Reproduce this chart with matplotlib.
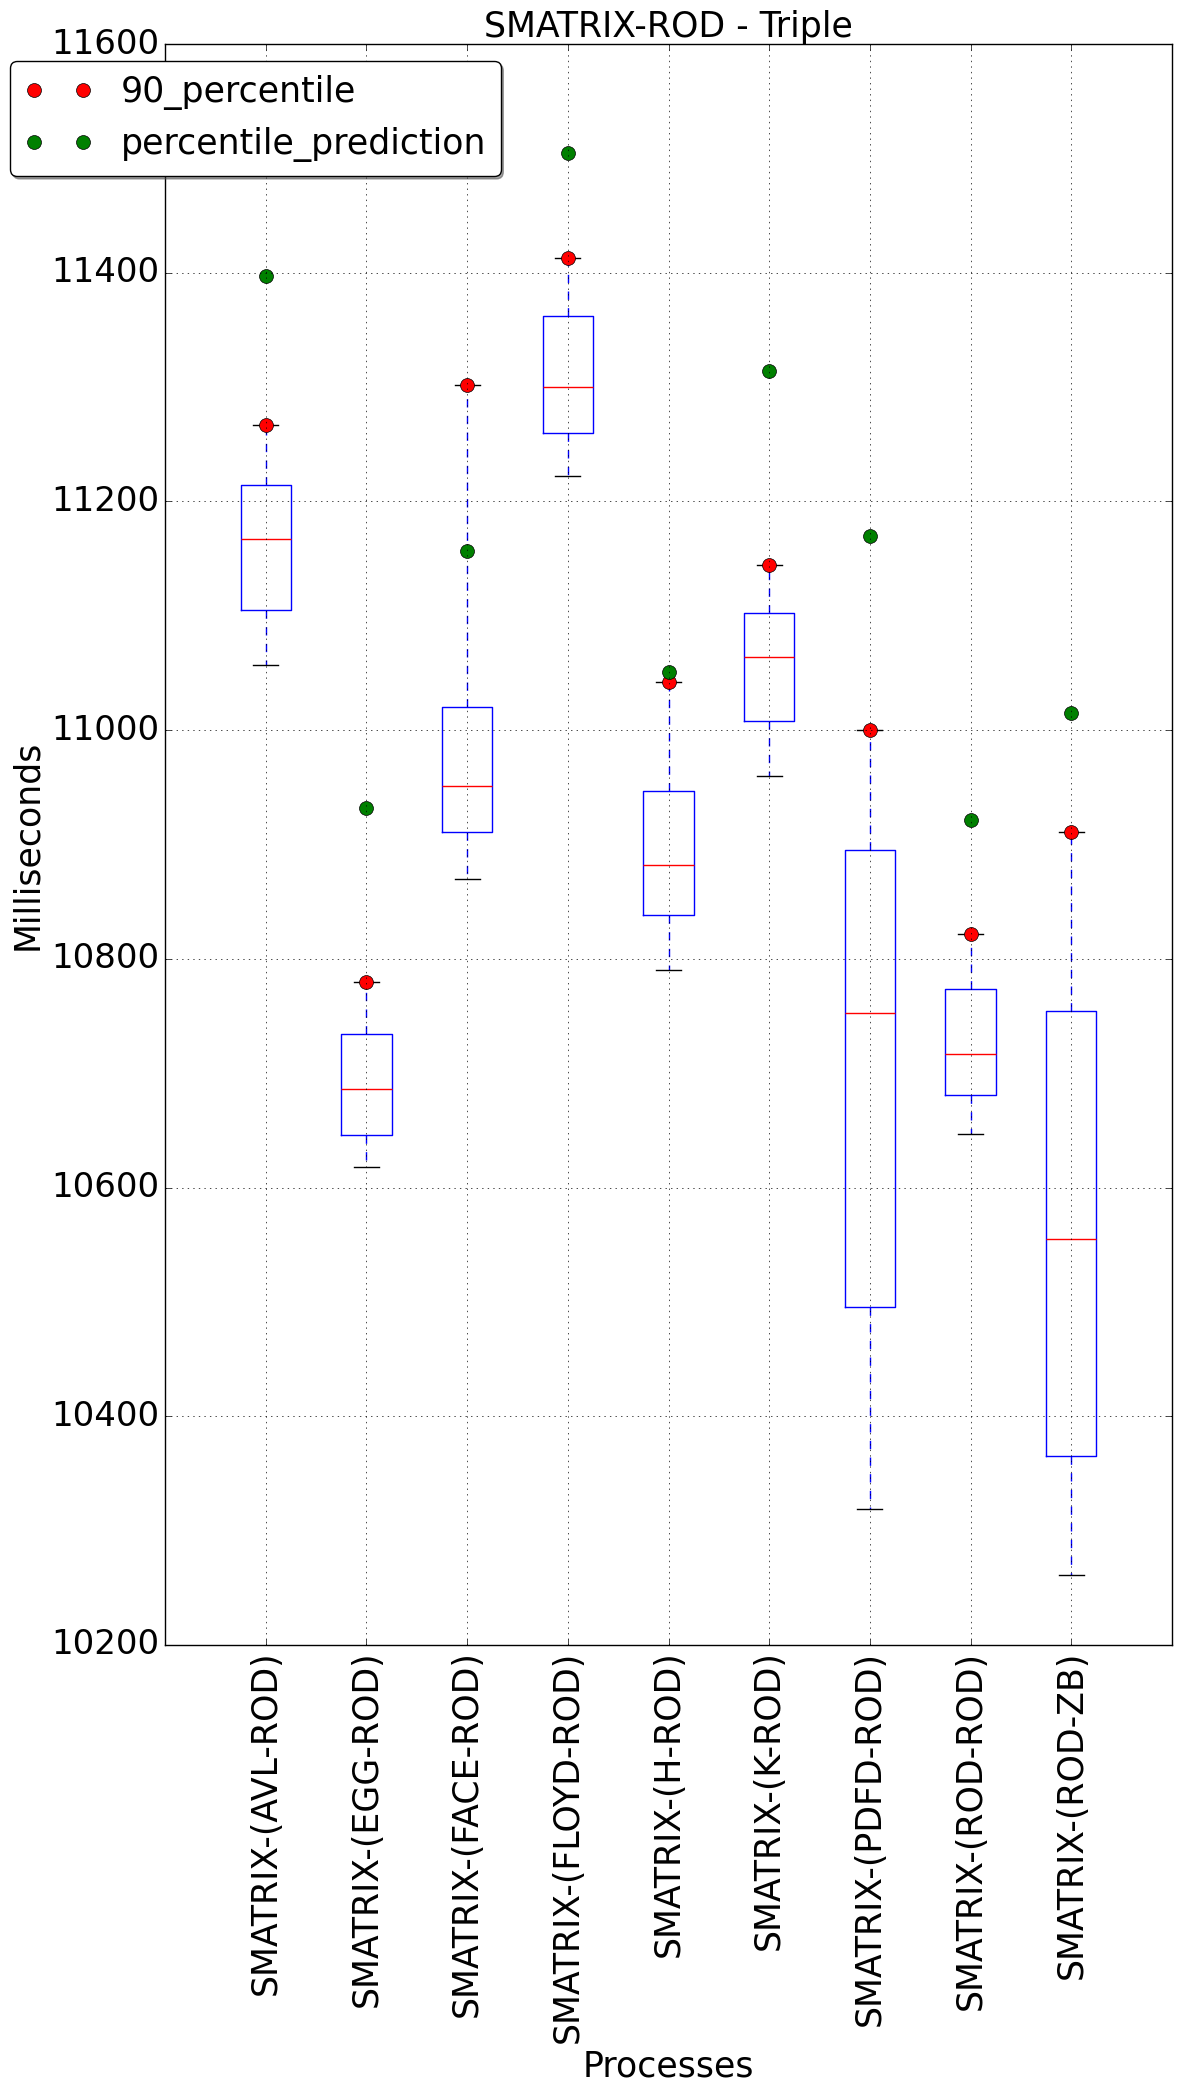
import matplotlib
matplotlib.use("Agg")
import matplotlib.pyplot as plt

plt.style.use("classic")
plt.rcParams["font.family"] = ["DejaVu Sans"]
plt.rcParams["font.size"] = 25

labels = ["SMATRIX-(AVL-ROD)", "SMATRIX-(EGG-ROD)", "SMATRIX-(FACE-ROD)",
          "SMATRIX-(FLOYD-ROD)", "SMATRIX-(H-ROD)", "SMATRIX-(K-ROD)",
          "SMATRIX-(PDFD-ROD)", "SMATRIX-(ROD-ROD)", "SMATRIX-(ROD-ZB)"]
whisker_low = [11057, 10618, 10870, 11222, 10790, 10960, 10319, 10647, 10261]
q1 = [11105, 10646, 10911, 11260, 10838, 11008, 10496, 10681, 10365]
median = [11167, 10686, 10951, 11300, 10882, 11064, 10753, 10717, 10555]
q3 = [11214, 10734, 11020, 11362, 10947, 11102, 10895, 10774, 10754]
p90 = [11267, 10780, 11302, 11413, 11042, 11144, 11000, 10822, 10911]
prediction = [11397, 10932, 11157, 11505, 11051, 11314, 11170, 10921, 11015]

yticks = [10200, 10400, 10600, 10800, 11000, 11200, 11400, 11600]

fig = plt.figure(figsize=(11.84, 21.0), dpi=100, facecolor="white")
ax = fig.add_axes([165 / 1184, 1 - 1645 / 2100, (1172 - 165) / 1184, (1645 - 44) / 2100])
ax.set_facecolor("white")

stats = []
for i in range(len(labels)):
    stats.append(dict(label=labels[i], whislo=whisker_low[i], q1=q1[i], med=median[i],
                      q3=q3[i], whishi=p90[i], fliers=[]))

positions = list(range(1, len(labels) + 1))
ax.bxp(stats, positions=positions, widths=0.5, showfliers=False,
       boxprops=dict(color="b", linewidth=1.0),
       whiskerprops=dict(color="b", linestyle="--", linewidth=1.0),
       capprops=dict(color="k", linewidth=1.0),
       medianprops=dict(color="r", linewidth=1.0))

ax.plot(positions, p90, "o", color="r", markersize=10, mec="k", mew=0.5,
        label="90_percentile")
ax.plot(positions, prediction, "o", color="g", markersize=10, mec="k", mew=0.5,
        label="percentile_prediction")

ax.set_xlim(0, len(labels) + 1)
ax.set_ylim(10200, 11600)
ax.set_yticks(yticks)
ax.set_xticks(positions)
ax.set_xticklabels(labels, rotation=90, fontsize=25)
ax.tick_params(axis="y", labelsize=24.5)
ax.grid(True, linestyle=":", color="k", linewidth=0.5)

ax.set_title("SMATRIX-ROD - Triple", fontsize=25)
ax.set_xlabel("Processes", fontsize=25)
ax.set_ylabel("Milliseconds", fontsize=25)

ax.legend(loc="upper left", bbox_to_anchor=(10 / 1184, 1 - 61 / 2100),
          bbox_transform=fig.transFigure, borderaxespad=0, numpoints=2,
          fancybox=True, shadow=True, fontsize=25, framealpha=1)

fig.savefig("out.png", dpi=100, facecolor="white")
